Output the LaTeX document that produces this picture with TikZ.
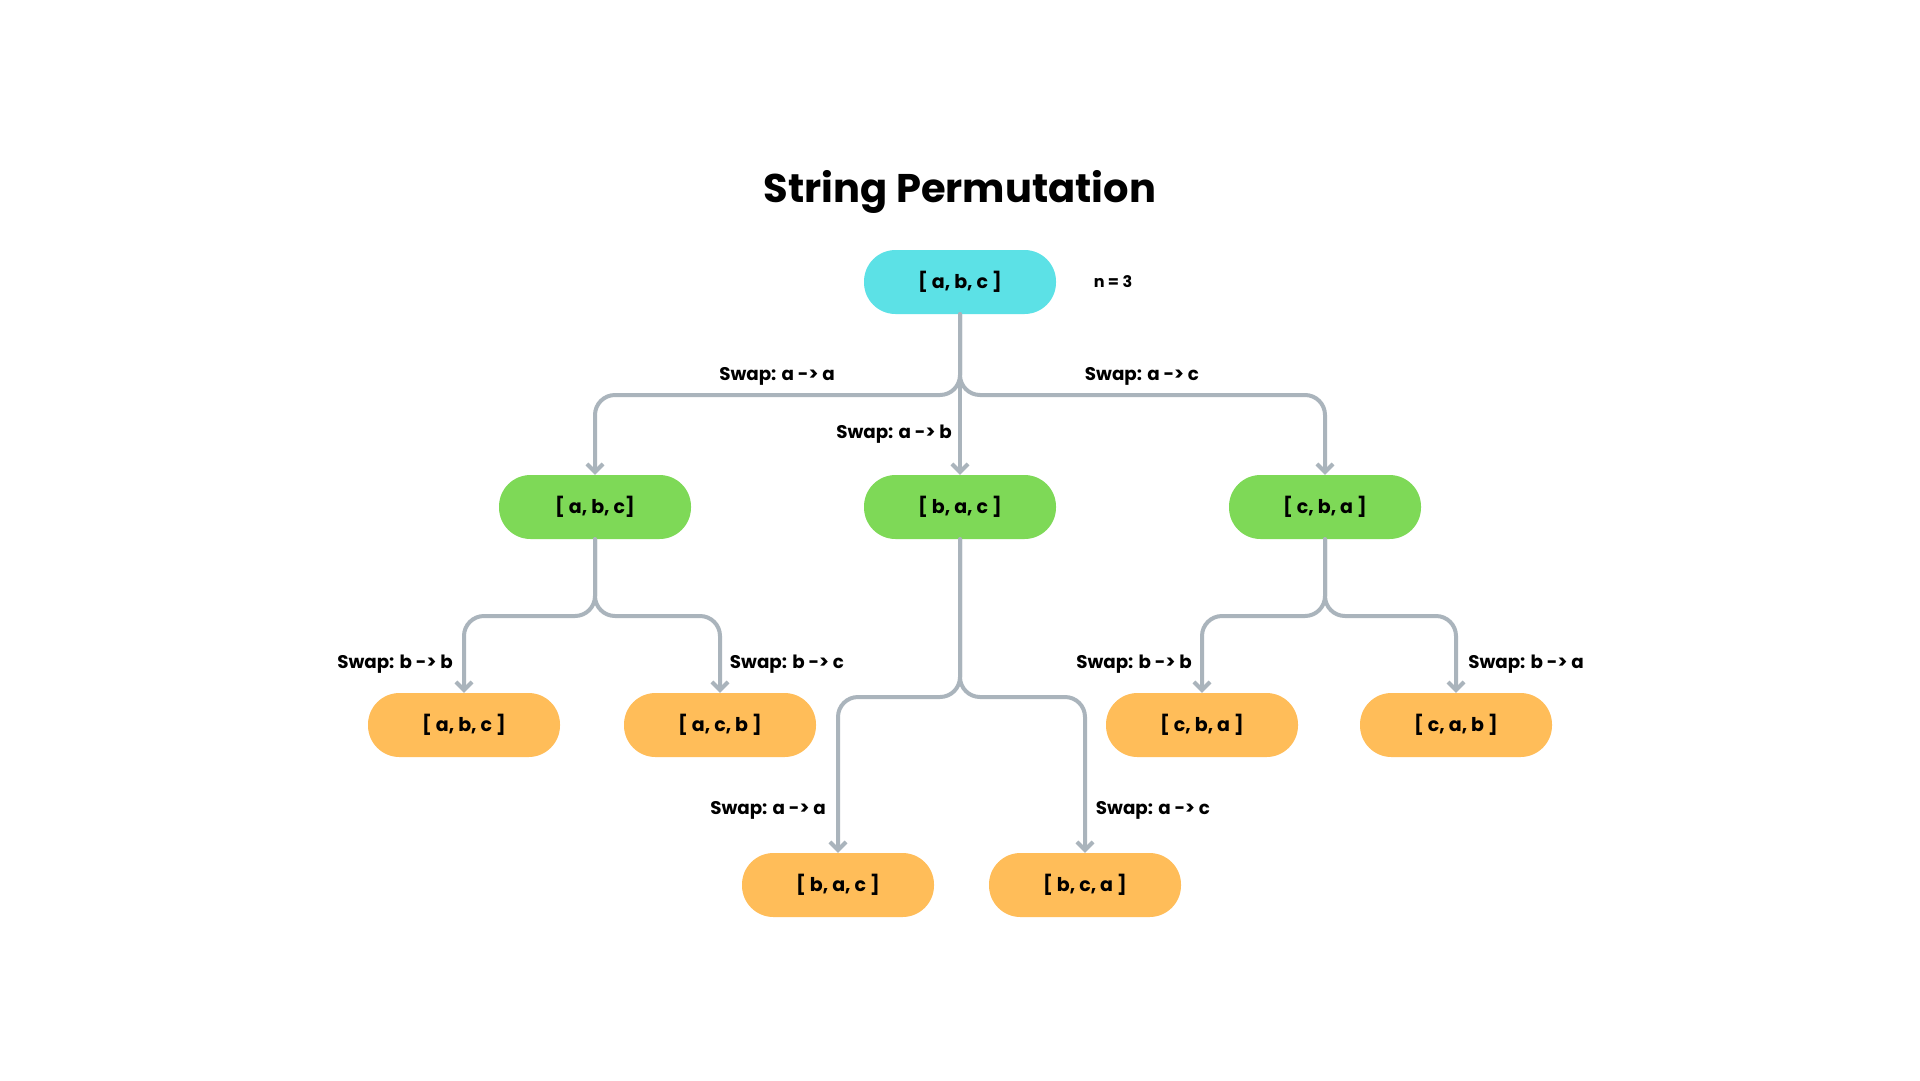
\documentclass[tikz,border=0pt]{standalone}
\usepackage{fontspec}
\setmainfont{Poppins}[Ligatures={NoCommon}, RawFeature={-calt}]
\usetikzlibrary{arrows.meta}
\definecolor{cyanbox}{HTML}{5CE1E6}
\definecolor{greenbox}{HTML}{7ED957}
\definecolor{orangebox}{HTML}{FFBD59}
\definecolor{edgegray}{HTML}{AAB4BC}
\tikzset{
  pill/.style={rectangle, rounded corners=31.5pt, minimum width=192pt, minimum height=64pt, inner sep=0pt, font=\fontsize{19}{22}\selectfont\bfseries},
  rootbox/.style={pill, fill=cyanbox},
  greenpill/.style={pill, fill=greenbox},
  orangepill/.style={pill, fill=orangebox},
  edge/.style={draw=edgegray, line width=4pt, rounded corners=20pt, line cap=round, -{Straight Barb[length=8pt,width=16pt,line width=4pt]}},
  lbl/.style={font=\fontsize{18.3}{22}\selectfont\bfseries, inner sep=0pt},
}
\begin{document}
\begin{tikzpicture}[x=1pt,y=-1pt]
\useasboundingbox[fill=white] (0,0) rectangle (1920,1080);
\node[font=\fontsize{40}{48}\selectfont\bfseries] (title) at (960,192) {String Permutation};
\node[rootbox] (root) at (960,282) {[ a, b, c ]};
\node[font=\fontsize{16}{19}\selectfont\bfseries] (n) at (1113,282) {n = 3};
\node[greenpill] (g1) at (595,507) {[ a, b, c]};
\node[greenpill] (g2) at (960,507) {[ b, a, c ]};
\node[greenpill] (g3) at (1325,507) {[ c, b, a ]};
\node[orangepill] (o1) at (464,725) {[ a, b, c ]};
\node[orangepill] (o2) at (720,725) {[ a, c, b ]};
\node[orangepill] (o3) at (1202,725) {[ c, b, a ]};
\node[orangepill] (o4) at (1456,725) {[ c, a, b ]};
\node[orangepill] (o5) at (838,885) {[ b, a, c ]};
\node[orangepill] (o6) at (1085,885) {[ b, c, a ]};
\coordinate (j0) at (960,395);
\coordinate (j1) at (595,616);
\coordinate (j2) at (960,697);
\coordinate (j3) at (1325,616);
\draw[edge] (root.south) -- (j0) -| (g1.north);
\draw[edge] (root.south) -- (j0) -| (g3.north);
\draw[edge] (root.south) -- (g2.north);
\draw[edge] (g1.south) -- (j1) -| (o1.north);
\draw[edge] (g1.south) -- (j1) -| (o2.north);
\draw[edge] (g2.south) -- (j2) -| (o5.north);
\draw[edge] (g2.south) -- (j2) -| (o6.north);
\draw[edge] (g3.south) -- (j3) -| (o3.north);
\draw[edge] (g3.south) -- (j3) -| (o4.north);
\node[lbl] (l1) at (777,376) {Swap: a -> a};
\node[lbl] (l2) at (894,434) {Swap: a -> b};
\node[lbl] (l3) at (1142,376) {Swap: a -> c};
\node[lbl] (l4) at (395,664) {Swap: b -> b};
\node[lbl] (l5) at (787,664) {Swap: b -> c};
\node[lbl] (l6) at (1134,664) {Swap: b -> b};
\node[lbl] (l7) at (1526,664) {Swap: b -> a};
\node[lbl] (l8) at (768,810) {Swap: a -> a};
\node[lbl] (l9) at (1153,810) {Swap: a -> c};
\end{tikzpicture}
\end{document}
